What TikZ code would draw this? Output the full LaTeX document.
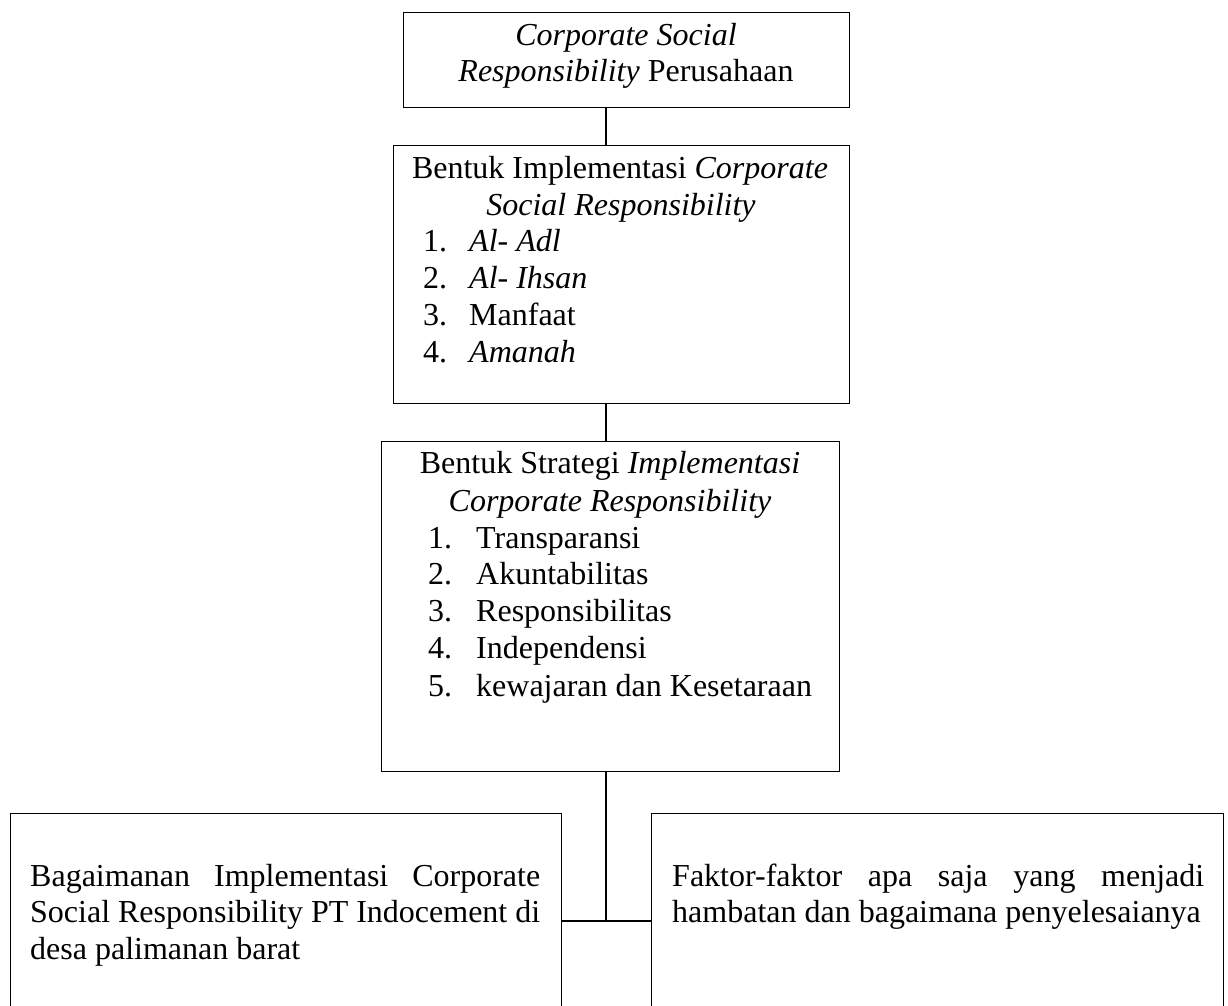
\documentclass[tikz,border=0pt]{standalone}
\usepackage{fontspec}
\setmainfont{Liberation Serif}
\begin{document}
\begin{tikzpicture}[x=1pt,y=-1pt,
  box/.style={draw, line width=1.3pt, anchor=north west, inner sep=0pt},
  conn/.style={draw, line width=1.3pt},
  txt/.style={font=\fontsize{32}{37}\selectfont, inner sep=0pt}]
\path[use as bounding box, clip] (0,0) rectangle (1228,1005);
\fill[white] (0,0) rectangle (1228,1005);
% boxes
\node[box, minimum width=446pt, minimum height=95pt] (b1) at (403,12) {};
\node[box, minimum width=456pt, minimum height=258pt] (b2) at (393,145) {};
\node[box, minimum width=458pt, minimum height=330pt] (b3) at (381,441) {};
\node[box, minimum width=551pt, minimum height=260pt] (b4) at (10,813) {};
\node[box, minimum width=572pt, minimum height=260pt] (b5) at (651,813) {};
% connectors
\coordinate (spine) at (606,0);
\coordinate (hj) at (606,921);
\draw[conn] (b1.south -| spine) -- (b2.north -| spine);
\draw[conn] (b2.south -| spine) -- (b3.north -| spine);
\draw[conn] (b3.south -| spine) -- (hj);
\draw[conn] (b4.east |- hj) -- (b5.west |- hj);
% box 1 text
\node[txt, anchor=mid] (t1a) at (626,43) {\textit{Corporate Social}};
\node[txt, anchor=mid] (t1b) at (626,79) {\textit{Responsibility} Perusahaan};
% box 2 text
\node[txt, anchor=mid] (t2a) at (620,176) {Bentuk Implementasi \textit{Corporate}};
\node[txt, anchor=mid] (t2b) at (621,213) {\textit{Social Responsibility}};
\foreach \n/\t/\y in {1/\textit{Al- Adl}/249, 2/\textit{Al- Ihsan}/286, 3/Manfaat/323, 4/\textit{Amanah}/360}{
  \node[txt, anchor=mid west] (n2\n) at (423,\y) {\n.};
  \node[txt, anchor=mid west] (i2\n) at (469,\y) {\t};
}
% box 3 text
\node[txt, anchor=mid] (t3a) at (610,471) {Bentuk Strategi \textit{Implementasi}};
\node[txt, anchor=mid] (t3b) at (610,509) {\textit{Corporate Responsibility}};
\foreach \n/\t/\y in {1/Transparansi/546, 2/Akuntabilitas/582, 3/Responsibilitas/619, 4/Independensi/656, 5/kewajaran dan Kesetaraan/694}{
  \node[txt, anchor=mid west] (n3\n) at (428,\y) {\n.};
  \node[txt, anchor=mid west] (i3\n) at (476,\y) {\t};
}
% box 4 text
\node[txt, anchor=mid west] (t4a) at (30,884) {\makebox[510pt][s]{Bagaimanan Implementasi Corporate}};
\node[txt, anchor=mid west] (t4b) at (30,920) {\makebox[510pt][s]{Social Responsibility PT Indocement di}};
\node[txt, anchor=mid west] (t4c) at (30,957) {desa palimanan barat};
% box 5 text
\node[txt, anchor=mid west] (t5a) at (672,884) {\makebox[532pt][s]{Faktor-faktor apa saja yang menjadi}};
\node[txt, anchor=mid west] (t5b) at (672,920) {hambatan dan bagaimana penyelesaianya};
\end{tikzpicture}
\end{document}
